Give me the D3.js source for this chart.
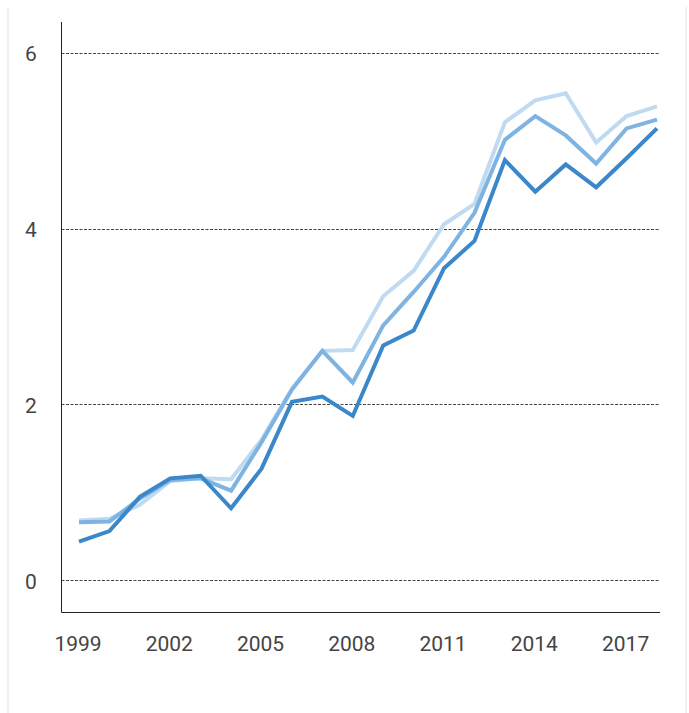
<!DOCTYPE html>
<html>
<head>
<meta charset="utf-8">
<script src="https://cdn.jsdelivr.net/npm/d3@7"></script>
<style>
  html, body { margin: 0; padding: 0; background: #fff; }
  svg { display: block; }
  text { font-family: Roboto, "Noto Sans", sans-serif; }
</style>
</head>
<body>
<svg id="chart" width="689" height="713"></svg>
<script>
const years = [1999,2000,2001,2002,2003,2004,2005,2006,2007,2008,2009,2010,2011,2012,2013,2014,2015,2016,2017,2018];
const seriesLight = [0.68,0.70,0.86,1.13,1.16,1.15,1.60,2.18,2.61,2.62,3.23,3.52,4.05,4.28,5.21,5.46,5.54,4.98,5.28,5.39];
const seriesMid   = [0.66,0.67,0.93,1.14,1.16,1.02,1.57,2.17,2.61,2.25,2.90,3.28,3.68,4.18,5.01,5.28,5.06,4.74,5.14,5.24];
const seriesDark  = [0.44,0.56,0.95,1.16,1.19,0.82,1.27,2.03,2.09,1.87,2.67,2.84,3.55,3.86,4.78,4.42,4.73,4.47,4.80,5.14];
const xTickLabels = [1999,2002,2005,2008,2011,2014,2017];
const yTickLabels = [0,2,4,6];
const seriesList = [
  {name: "light", values: seriesLight, color: "#bfdaf1"},
  {name: "mid", values: seriesMid, color: "#7fb3e1"},
  {name: "dark", values: seriesDark, color: "#3a87c9"}
];

const svg = d3.select("#chart");

// card side edges
svg.append("g").selectAll("line").data([8, 686]).join("line")
  .attr("x1", d => d).attr("x2", d => d).attr("y1", 7).attr("y2", 713)
  .attr("stroke", "#ececec").attr("stroke-width", 1.5);

const x = d3.scaleLinear().domain([1999, 2018]).range([79, 657]);
const y = d3.scaleLinear().domain([-0.36, 6.35]).range([612, 22]);
const xLeft = 61.5, xRight = 660;

// gridlines
svg.append("g").selectAll("line").data(yTickLabels).join("line")
  .attr("x1", xLeft).attr("x2", xRight)
  .attr("y1", d => Math.round(y(d)) + 0.5).attr("y2", d => Math.round(y(d)) + 0.5)
  .attr("stroke", "#444").attr("stroke-width", 1).attr("stroke-dasharray", "3,1.5");

// y tick labels
svg.append("g").selectAll("text").data(yTickLabels).join("text")
  .attr("x", 31).attr("y", d => y(d) + 1).attr("dy", "0.36em")
  .attr("text-anchor", "middle").attr("font-size", 21).attr("fill", "#444")
  .text(d => d);

// x tick labels
svg.append("g").selectAll("text").data(xTickLabels).join("text")
  .attr("x", d => x(d) - 1).attr("y", 651)
  .attr("text-anchor", "middle").attr("font-size", 21).attr("fill", "#444")
  .text(d => d);

// axes lines
svg.append("line").attr("x1", xLeft).attr("x2", xLeft)
  .attr("y1", y(6.35)).attr("y2", y(-0.36) + 0.5)
  .attr("stroke", "#222").attr("stroke-width", 1);
svg.append("line").attr("x1", xLeft).attr("x2", xRight)
  .attr("y1", Math.round(y(-0.36)) + 0.5).attr("y2", Math.round(y(-0.36)) + 0.5)
  .attr("stroke", "#222").attr("stroke-width", 1);

// lines
const line = d3.line().x((d, i) => x(years[i])).y(d => y(d));
svg.append("g").selectAll("path").data(seriesList).join("path")
  .attr("d", s => line(s.values))
  .attr("fill", "none").attr("stroke", s => s.color)
  .attr("stroke-width", 4).attr("stroke-linejoin", "miter");
</script>
</body>
</html>
